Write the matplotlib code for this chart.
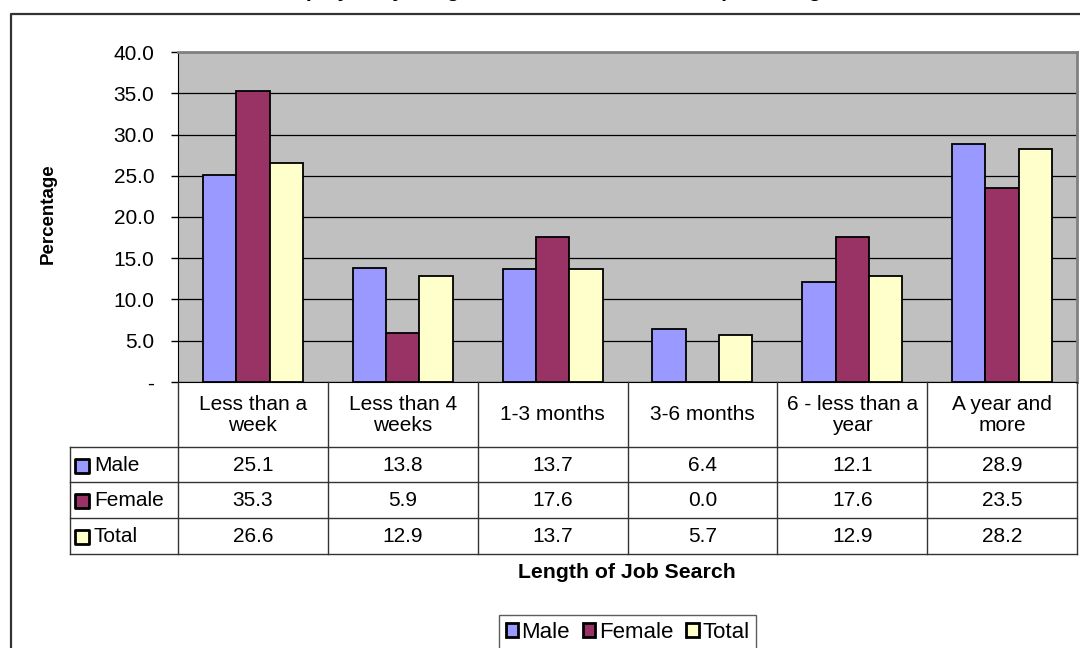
import numpy as np
import matplotlib
matplotlib.use("Agg")
from matplotlib import pyplot as plt

plt.rcParams['font.family'] = ['Liberation Sans', 'DejaVu Sans']

categories = ["Less than a\nweek", "Less than 4\nweeks", "1-3 months",
              "3-6 months", "6 - less than a\nyear", "A year and\nmore"]
series = ["Male", "Female", "Total"]
male = [25.1, 13.8, 13.7, 6.4, 12.1, 28.9]
female = [35.3, 5.9, 17.6, 0.0, 17.6, 23.5]
total = [26.6, 12.9, 13.7, 5.7, 12.9, 28.2]
colors = ["#9999FF", "#993366", "#FFFFCC"]
yticks = [0, 5, 10, 15, 20, 25, 30, 35, 40]

W, H = 1080, 648
FS = 15
fig = plt.figure(figsize=(W / 100, H / 100), dpi=100)


def px(x0, y0, x1, y1):  # pixel box -> figure fraction
    return [x0 / W, 1 - y1 / H, (x1 - x0) / W, (y1 - y0) / H]


# outer chart border (right and bottom run off the picture)
border = fig.add_axes([0, 0, 1, 1], facecolor="none")
border.set_xlim(0, W)
border.set_ylim(H, 0)
border.axis("off")
border.plot([11, 11, W + 5], [H + 5, 13.5, 13.5], color="#333333", lw=1.6)

# title is cropped off the top, only its descenders show
fig.text(0.5, 1 + 3 / H, "Unemployed by Length of Job Search and Sex, percentage",
         ha="center", va="baseline", fontsize=FS, fontweight="bold")

# plot area
ax = fig.add_axes(px(178, 52, 1077, 382))
ax.set_facecolor("#C0C0C0")
data = [male, female, total]
x = np.arange(len(categories))
bw = 1 / 4.5
for i, (vals, c) in enumerate(zip(data, colors)):
    ax.bar(x + 0.5 + (i - 1) * bw, vals, bw, color=c, edgecolor="black",
           lw=1.3, zorder=3)
ax.set_xlim(0, 6)
ax.set_ylim(0, 40)
ax.set_yticks(yticks)
ax.set_yticklabels(["-"] + ["%.1f" % v for v in yticks[1:]], fontsize=FS)
ax.yaxis.grid(True, color="black", lw=0.9, zorder=1)
ax.set_xticks([])
ax.tick_params(axis="y", length=5, width=1, direction="out", pad=12)
ax.spines["top"].set_color("#808080")
ax.spines["right"].set_color("#808080")
ax.spines["top"].set_linewidth(2)
ax.spines["right"].set_linewidth(2)
ax.spines["left"].set_color("black")
ax.spines["bottom"].set_color("black")
fig.text(48 / W, 1 - 214 / H, "Percentage", rotation=90, ha="center",
         va="center", fontsize=13.5, fontweight="bold")

# data table below the plot
tab = fig.add_axes(px(70, 382, 1077, 554))
cw = 899 / 6
left = -108 / cw
tab.set_xlim(left, 6)
tab.set_ylim(172, 0)
tab.axis("off")
rows = [0, 65, 100, 136, 172]
lc = "#333333"
for k in range(7):
    tab.plot([k, k], [0, 172], color=lc, lw=1, clip_on=False)
for r in rows[1:]:
    tab.plot([left, 6], [r, r], color=lc, lw=1, clip_on=False)
tab.plot([left, left], [65, 172], color=lc, lw=1, clip_on=False)
for k, cat in enumerate(categories):
    tab.text(k + 0.5, 33, cat, ha="center", va="center", fontsize=FS,
             linespacing=1.15)
for j, (name, vals, c) in enumerate(zip(series, data, colors)):
    yc = (rows[j + 1] + rows[j + 2]) / 2
    tab.scatter([left + 12 / cw], [yc + 1], marker="s", s=95, color=c,
                edgecolor="black", lw=2, clip_on=False)
    tab.text(left + 24 / cw, yc + 1, name, ha="left", va="center", fontsize=FS)
    for k, v in enumerate(vals):
        tab.text(k + 0.5, yc + 1, "%.1f" % v, ha="center", va="center", fontsize=FS)

fig.text(627 / W, 1 - 573 / H, "Length of Job Search", ha="center",
         va="center", fontsize=15.3, fontweight="bold")

handles = [plt.Rectangle((0, 0), 1, 1, facecolor=c, edgecolor="black", lw=2)
           for c in colors]
leg = fig.legend(handles, series, loc="upper center",
                 bbox_to_anchor=(627.5 / W, 1 - 615 / H),
                 ncol=3, fontsize=16, frameon=True, fancybox=False,
                 handlelength=0.55, handleheight=0.55, handletextpad=0.15,
                 columnspacing=0.6, borderpad=0.3, borderaxespad=0)
leg.get_frame().set_edgecolor("#333333")
leg.get_frame().set_linewidth(1)

fig.savefig("out.png", dpi=100)
